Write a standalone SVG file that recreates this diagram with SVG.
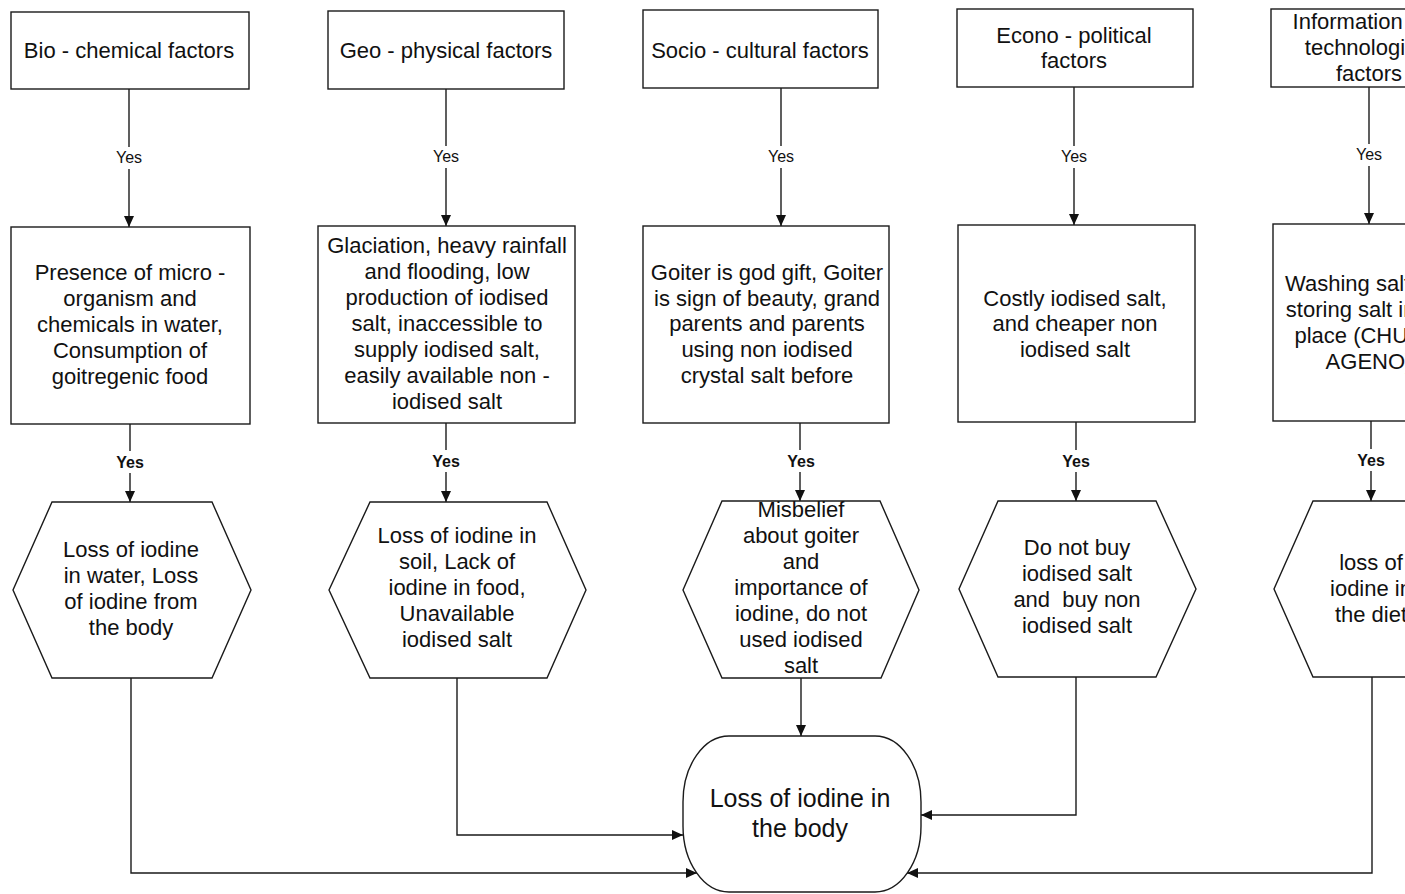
<svg xmlns="http://www.w3.org/2000/svg" width="1405" height="894" viewBox="0 0 1405 894">
<style>
.box{fill:#fff;stroke:#1a1a1a;stroke-width:1.4}
.t{font-family:"Liberation Sans",Arial,sans-serif;font-size:22px;fill:#111;text-anchor:middle}
.big{font-size:25px}
.yes{font-family:"Liberation Sans",Arial,sans-serif;font-size:16px;fill:#111;text-anchor:middle}
.yb{font-weight:bold}
.c{fill:none;stroke:#1a1a1a;stroke-width:1.4}
</style>
<defs>
<marker id="ah" markerUnits="userSpaceOnUse" markerWidth="12" markerHeight="10" refX="11" refY="5" orient="auto">
<path d="M0,0 L11,5 L0,10 Z" fill="#111"/>
</marker>
</defs>
<rect width="1405" height="894" fill="#fff"/>

<g id="connectors">
<line class="c" x1="129" y1="89" x2="129" y2="147"/>
<line class="c" x1="129" y1="169" x2="129" y2="227" marker-end="url(#ah)"/>
<text class="yes" x="129" y="163">Yes</text>
<line class="c" x1="446" y1="89" x2="446" y2="146"/>
<line class="c" x1="446" y1="168" x2="446" y2="226" marker-end="url(#ah)"/>
<text class="yes" x="446" y="162">Yes</text>
<line class="c" x1="781" y1="88" x2="781" y2="146"/>
<line class="c" x1="781" y1="168" x2="781" y2="226" marker-end="url(#ah)"/>
<text class="yes" x="781" y="162">Yes</text>
<line class="c" x1="1074" y1="87" x2="1074" y2="146"/>
<line class="c" x1="1074" y1="168" x2="1074" y2="225" marker-end="url(#ah)"/>
<text class="yes" x="1074" y="162">Yes</text>
<line class="c" x1="1369" y1="87" x2="1369" y2="144"/>
<line class="c" x1="1369" y1="166" x2="1369" y2="224" marker-end="url(#ah)"/>
<text class="yes" x="1369" y="160">Yes</text>

<line class="c" x1="130" y1="424" x2="130" y2="451"/>
<line class="c" x1="130" y1="473" x2="130" y2="502" marker-end="url(#ah)"/>
<text class="yes yb" x="130" y="468">Yes</text>
<line class="c" x1="446" y1="423" x2="446" y2="450"/>
<line class="c" x1="446" y1="472" x2="446" y2="502" marker-end="url(#ah)"/>
<text class="yes yb" x="446" y="467">Yes</text>
<line class="c" x1="800" y1="423" x2="800" y2="450"/>
<line class="c" x1="800" y1="472" x2="800" y2="501" marker-end="url(#ah)"/>
<text class="yes yb" x="801" y="467">Yes</text>
<line class="c" x1="1076" y1="422" x2="1076" y2="450"/>
<line class="c" x1="1076" y1="472" x2="1076" y2="501" marker-end="url(#ah)"/>
<text class="yes yb" x="1076" y="467">Yes</text>
<line class="c" x1="1371" y1="421" x2="1371" y2="449"/>
<line class="c" x1="1371" y1="471" x2="1371" y2="501" marker-end="url(#ah)"/>
<text class="yes yb" x="1371" y="466">Yes</text>

<line class="c" x1="801" y1="678" x2="801" y2="736" marker-end="url(#ah)"/>
<polyline class="c" points="457,678 457,835 683,835" marker-end="url(#ah)"/>
<polyline class="c" points="131,678 131,873 697,873" marker-end="url(#ah)"/>
<polyline class="c" points="1076,677 1076,815 921,815" marker-end="url(#ah)"/>
<polyline class="c" points="1372,677 1372,873 907,873" marker-end="url(#ah)"/>
</g>

<g id="bio-factors"><rect class="box" x="11" y="12" width="238" height="77"/><text class="t" x="129" y="58">Bio - chemical factors</text></g>
<g id="geo-factors"><rect class="box" x="328" y="11" width="236" height="78"/><text class="t" x="446" y="58">Geo - physical factors</text></g>
<g id="socio-factors"><rect class="box" x="643" y="10" width="235" height="78"/><text class="t" x="760" y="58">Socio - cultural factors</text></g>
<g id="econo-factors"><rect class="box" x="957" y="9" width="236" height="78"/><text class="t" x="1074" y="43">Econo - political</text><text class="t" x="1074" y="68">factors</text></g>
<g id="info-factors"><rect class="box" x="1271" y="9" width="236" height="78"/><text class="t" x="1369" y="29">Information and</text><text class="t" x="1369" y="55">technological</text><text class="t" x="1369" y="81">factors</text></g>

<g id="bio-causes"><rect class="box" x="11" y="227" width="239" height="197"/>
<text class="t" x="130" y="280">Presence of micro -</text><text class="t" x="130" y="306">organism and</text><text class="t" x="130" y="332">chemicals in water,</text><text class="t" x="130" y="358">Consumption of</text><text class="t" x="130" y="384">goitregenic food</text></g>
<g id="geo-causes"><rect class="box" x="318" y="226" width="257" height="197"/>
<text class="t" x="447" y="253">Glaciation, heavy rainfall</text><text class="t" x="447" y="279">and flooding, low</text><text class="t" x="447" y="305">production of iodised</text><text class="t" x="447" y="331">salt, inaccessible to</text><text class="t" x="447" y="357">supply iodised salt,</text><text class="t" x="447" y="383">easily available non -</text><text class="t" x="447" y="409">iodised salt</text></g>
<g id="socio-causes"><rect class="box" x="643" y="226" width="246" height="197"/>
<text class="t" x="767" y="280">Goiter is god gift, Goiter</text><text class="t" x="767" y="306">is sign of beauty, grand</text><text class="t" x="767" y="331">parents and parents</text><text class="t" x="767" y="357">using non iodised</text><text class="t" x="767" y="383">crystal salt before</text></g>
<g id="econo-causes"><rect class="box" x="958" y="225" width="237" height="197"/>
<text class="t" x="1075" y="306">Costly iodised salt,</text><text class="t" x="1075" y="331">and cheaper non</text><text class="t" x="1075" y="357">iodised salt</text></g>
<g id="info-causes"><rect class="box" x="1273" y="224" width="236" height="197"/>
<text class="t" x="1369" y="291">Washing salt and</text><text class="t" x="1369" y="317">storing salt in hot</text><text class="t" x="1369" y="343">place  (CHULO,</text><text class="t" x="1369" y="369">AGENO)</text></g>

<g id="bio-effect"><polygon class="box" points="52,502 212,502 251,590 212,678 52,678 13,590"/>
<text class="t" x="131" y="557">Loss of iodine</text><text class="t" x="131" y="583">in water, Loss</text><text class="t" x="131" y="609">of iodine from</text><text class="t" x="131" y="635">the body</text></g>
<g id="geo-effect"><polygon class="box" points="370,502 547,502 586,590 547,678 370,678 329,590"/>
<text class="t" x="457" y="543">Loss of iodine in</text><text class="t" x="457" y="569">soil, Lack of</text><text class="t" x="457" y="595">iodine in food,</text><text class="t" x="457" y="621">Unavailable</text><text class="t" x="457" y="647">iodised salt</text></g>
<g id="socio-effect"><polygon class="box" points="722,501 880,501 919,590 881,678 722,678 683,590"/>
<text class="t" x="801" y="517">Misbelief</text><text class="t" x="801" y="543">about goiter</text><text class="t" x="801" y="569">and</text><text class="t" x="801" y="595">importance of</text><text class="t" x="801" y="621">iodine, do not</text><text class="t" x="801" y="647">used iodised</text><text class="t" x="801" y="673">salt</text></g>
<g id="econo-effect"><polygon class="box" points="998,501 1156,501 1196,589 1156,677 998,677 959,589"/>
<text class="t" x="1077" y="555">Do not buy</text><text class="t" x="1077" y="581">iodised salt</text><text class="t" x="1077" y="607">and&#160; buy non</text><text class="t" x="1077" y="633">iodised salt</text></g>
<g id="info-effect"><polygon class="box" points="1313,501 1431,501 1470,589 1431,677 1313,677 1274,589"/>
<text class="t" x="1371" y="570">loss of</text><text class="t" x="1371" y="596">iodine in</text><text class="t" x="1371" y="622">the diet</text></g>

<g id="loss-of-iodine"><rect class="box" x="683" y="736" width="238" height="156" rx="46" ry="66"/>
<text class="t big" x="800" y="807">Loss of iodine in</text><text class="t big" x="800" y="837">the body</text></g>
</svg>
